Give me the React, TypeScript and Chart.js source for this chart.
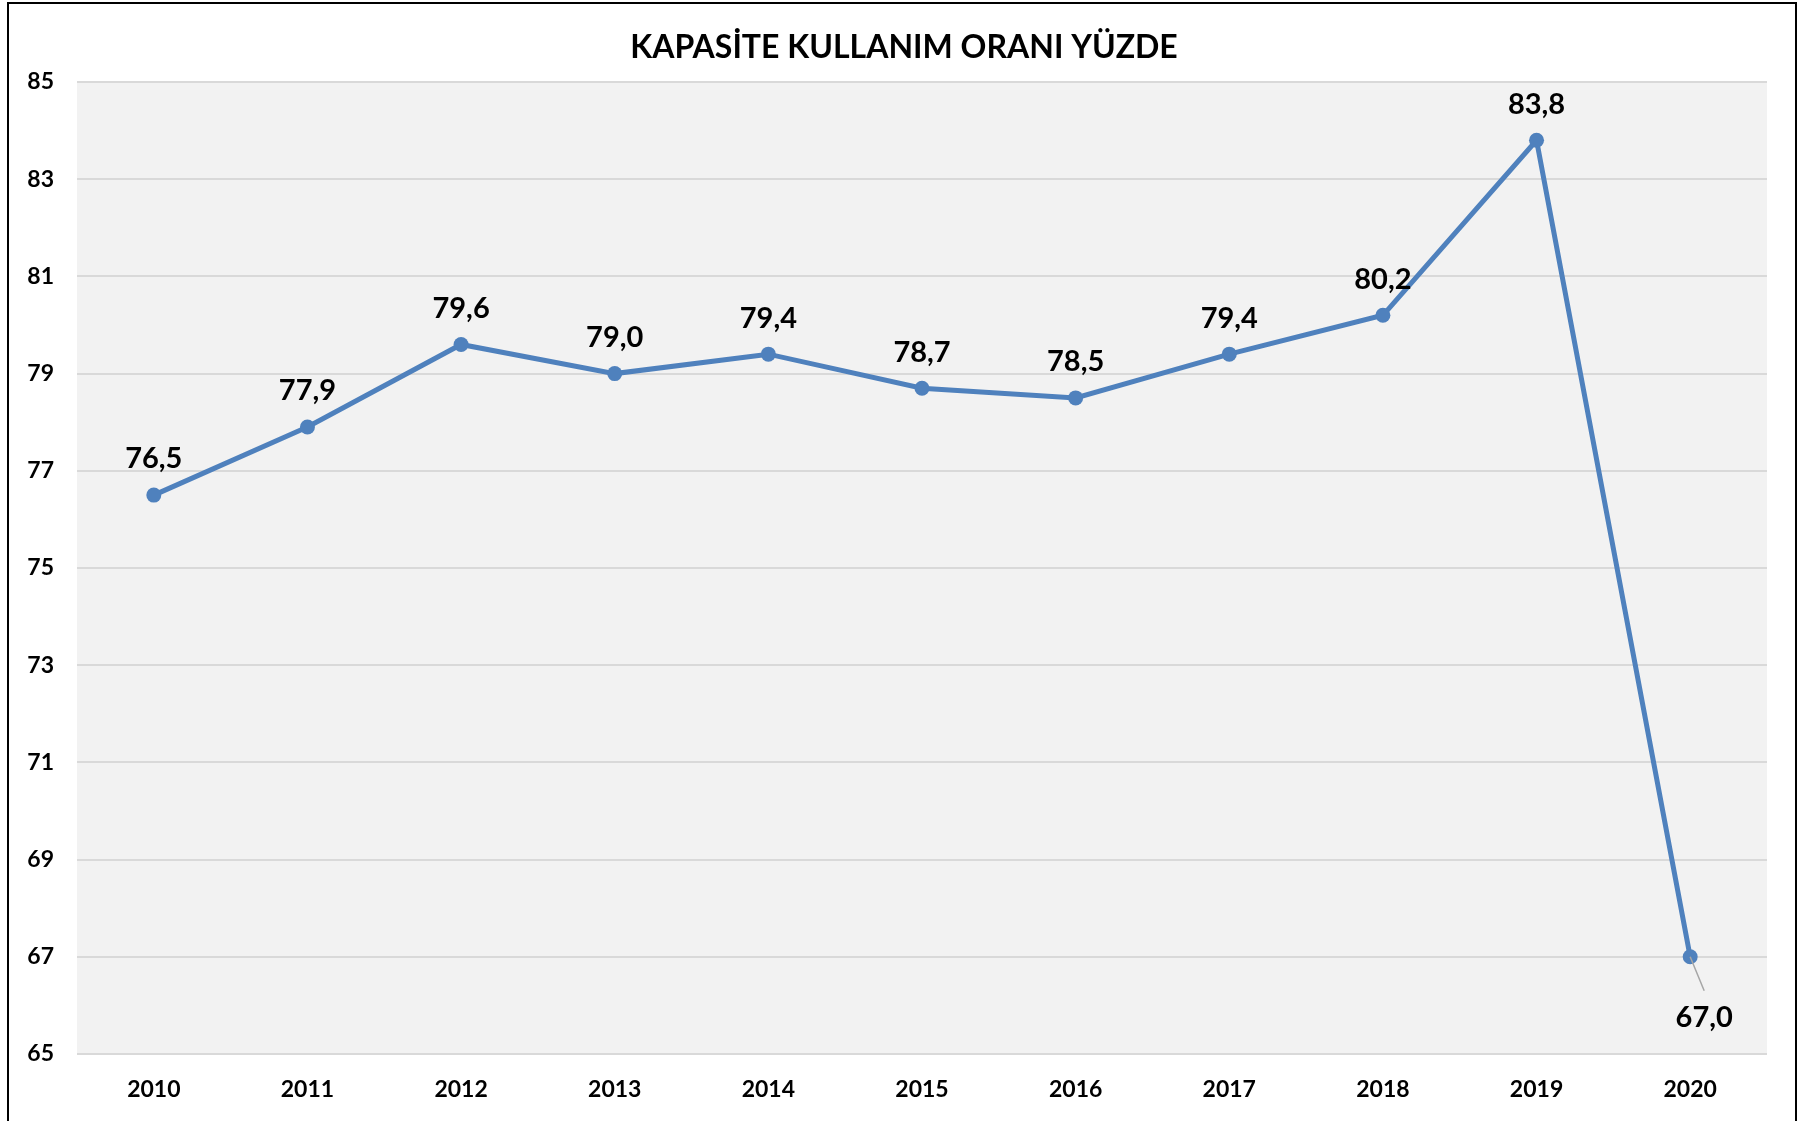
import React, { useEffect, useRef } from "react";
import { Chart, registerables } from "chart.js";

Chart.register(...registerables);

// ---- Data ----
const chartTitle = "KAPASİTE KULLANIM ORANI YÜZDE";
const years = ["2010", "2011", "2012", "2013", "2014", "2015", "2016", "2017", "2018", "2019", "2020"];
const utilisation = [76.5, 77.9, 79.6, 79.0, 79.4, 78.7, 78.5, 79.4, 80.2, 83.8, 67.0];
const yMin = 65;
const yMax = 85;
const yStep = 2;

// ---- Styles ----
const FONT = "Lato, 'Open Sans', 'DejaVu Sans', sans-serif";
const LINE_BLUE = "#4f81bd";
const GRID = "#d9d9d9";
const PLOT_BG = "#f2f2f2";

const fmt = (v: number) => v.toFixed(1).replace(".", ",");

const plotBackground = {
  id: "plotBackground",
  beforeDraw(chart: any) {
    const { ctx, chartArea } = chart;
    if (!chartArea) return;
    ctx.save();
    ctx.fillStyle = PLOT_BG;
    ctx.fillRect(chartArea.left, chartArea.top, chartArea.right - chartArea.left, chartArea.bottom - chartArea.top);
    ctx.restore();
  },
};

const dataLabels = {
  id: "dataLabels",
  afterDatasetsDraw(chart: any) {
    const { ctx } = chart;
    const meta = chart.getDatasetMeta(0);
    const data = chart.data.datasets[0].data as number[];
    ctx.save();
    ctx.font = `bold 29px ${FONT}`;
    ctx.fillStyle = "#000";
    ctx.textAlign = "center";
    ctx.textBaseline = "middle";
    meta.data.forEach((pt: any, i: number) => {
      const { x, y } = pt.getProps(["x", "y"], true);
      const text = fmt(data[i]);
      if (i === data.length - 1) {
        // label placed below-right with a leader line
        ctx.save();
        ctx.strokeStyle = "#a6a6a6";
        ctx.lineWidth = 1.5;
        ctx.beginPath();
        ctx.moveTo(x, y);
        ctx.lineTo(x + 14, y + 34);
        ctx.stroke();
        ctx.restore();
        ctx.fillText(text, x + 14, y + 61);
      } else {
        ctx.fillText(text, x, y - 36);
      }
    });
    ctx.restore();
  },
};

export default function App() {
  const canvasRef = useRef<HTMLCanvasElement | null>(null);

  useEffect(() => {
    const canvas = canvasRef.current;
    if (!canvas) return;
    const chart = new Chart(canvas, {
      type: "line",
      data: {
        labels: years,
        datasets: [
          {
            data: utilisation,
            borderColor: LINE_BLUE,
            backgroundColor: LINE_BLUE,
            borderWidth: 5,
            pointRadius: 7.5,
            pointHoverRadius: 7.5,
            pointBackgroundColor: LINE_BLUE,
            pointBorderColor: LINE_BLUE,
            pointBorderWidth: 0,
            tension: 0,
            fill: false,
          },
        ],
      },
      options: {
        responsive: false,
        animation: false,
        devicePixelRatio: 1,
        layout: { padding: { left: 0, right: 0, top: 0, bottom: 0 } },
        plugins: {
          legend: { display: false },
          tooltip: { enabled: false },
          title: {
            display: true,
            text: chartTitle,
            color: "#000",
            font: { family: FONT, size: 32, weight: "bold", lineHeight: 1.2 },
            padding: { top: 28.6, bottom: 15 },
          },
        },
        scales: {
          x: {
            offset: true,
            grid: { display: false, drawTicks: false },
            border: { display: false },
            ticks: {
              color: "#000",
              padding: 22,
              font: { family: FONT, size: 23, weight: "bold", lineHeight: 1.2 },
              maxRotation: 0,
              autoSkip: false,
            },
            afterFit(scale: any) {
              scale.height = 67;
              scale.paddingLeft = 0;
              scale.paddingRight = 41;
            },
          },
          y: {
            min: yMin,
            max: yMax,
            ticks: {
              stepSize: yStep,
              color: "#000",
              padding: 23,
              font: { family: FONT, size: 23, weight: "bold", lineHeight: 1.2 },
            },
            grid: { color: GRID, lineWidth: 2, drawTicks: false },
            border: { display: false },
            afterFit(scale: any) {
              scale.width = 77;
            },
          },
        },
      },
      plugins: [plotBackground, dataLabels],
    } as any);
    return () => chart.destroy();
  }, []);

  return (
    <div
      style={{
        position: "fixed",
        left: 0,
        top: 0,
        width: 1808,
        height: 1121,
        overflow: "hidden",
        background: "#fff",
      }}
    >
      <canvas ref={canvasRef} width={1808} height={1121} style={{ position: "absolute", left: 0, top: 0, width: 1808, height: 1121 }} />
      <div
        style={{
          position: "absolute",
          left: 7,
          top: 2,
          width: 1790,
          height: 1140,
          border: "2px solid #000",
          boxSizing: "border-box",
          pointerEvents: "none",
        }}
      />
    </div>
  );
}
